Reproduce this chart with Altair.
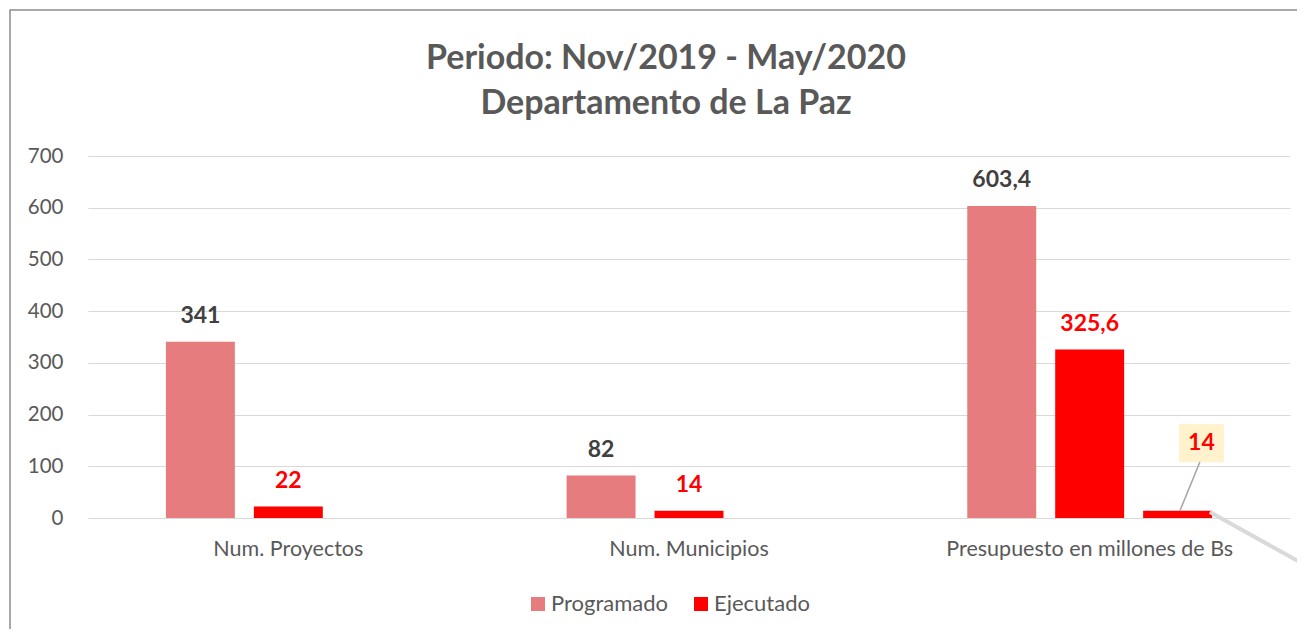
import altair as alt
import pandas as pd

# ---- data ----
categories = ["Num. Proyectos", "Num. Municipios", "Presupuesto en millones de Bs"]
series_names = ["Programado", "Ejecutado", "Ejecutado (adicional)"]
programado = [341, 82, 603.4]
ejecutado = [22, 14, 325.6]
adicional = [None, None, 14]
legend_values = ["Programado", "Ejecutado"]
y_ticks = [0, 100, 200, 300, 400, 500, 600, 700]
title_lines = ["Periodo: Nov/2019 - May/2020", "Departamento de La Paz"]


def fmt(v):
    if float(v).is_integer():
        return str(int(v))
    return str(v).replace(".", ",")


rows = []
for i, c in enumerate(categories):
    for s, vals in zip(series_names, [programado, ejecutado, adicional]):
        v = vals[i]
        if v is None:
            continue
        rows.append({"cat": c, "serie": s, "valor": v, "etiqueta": fmt(v)})
df = pd.DataFrame(rows)

FONT = "Lato"
GRAY = "#595959"

x_enc = alt.X(
    "cat:N", sort=categories,
    scale=alt.Scale(paddingInner=0.389, paddingOuter=0.1945),
    axis=alt.Axis(title=None, labelFontSize=21.5, labelColor=GRAY, labelFont=FONT,
                  ticks=False, domain=False, labelPadding=20, labelAngle=0, grid=False,
                  labelLimit=0),
)
xo_enc = alt.XOffset("serie:N", sort=series_names,
                     scale=alt.Scale(paddingInner=0.216, paddingOuter=0))
y_enc = alt.Y(
    "valor:Q", scale=alt.Scale(domain=[0, 700], nice=False),
    axis=alt.Axis(title=None, values=y_ticks, grid=True, gridColor="#D9D9D9",
                  ticks=False, domain=False, labelPadding=25, labelFontSize=20.5,
                  labelColor=GRAY, labelFont=FONT),
)

bars = alt.Chart(df).mark_bar().encode(
    x=x_enc, xOffset=xo_enc, y=y_enc,
    color=alt.Color(
        "serie:N",
        scale=alt.Scale(domain=series_names, range=["#E67C7E", "#FF0000", "#FF0000"]),
        legend=alt.Legend(values=legend_values, title=None, orient="none",
                          legendX=439, legendY=437, direction="horizontal",
                          symbolType="square", symbolSize=196, labelFontSize=22,
                          labelColor=GRAY, labelFont=FONT, columnPadding=21,
                          labelOffset=2, symbolStrokeWidth=0, padding=0),
    ),
)

labels = alt.Chart(df).transform_filter(
    alt.datum.serie != "Ejecutado (adicional)"
).mark_text(font=FONT, fontWeight="bold", fontSize=23, baseline="middle", dy=-26).encode(
    x=x_enc, xOffset=xo_enc, y="valor:Q", text="etiqueta:N",
    color=alt.condition(alt.datum.serie == "Programado", alt.value("#404040"), alt.value("#FF0000")),
)

main = alt.layer(bars, labels)

# ---- annotation for the small third bar (category units on x) ----
xq = alt.Scale(domain=[0, 3], nice=False, zero=False)
ann_label = adicional[2]

box = alt.Chart(pd.DataFrame({"x": [2.723], "x2": [2.835], "y": [182], "y2": [108]})).mark_rect(
    color="#FFF2CC").encode(
    x=alt.X("x:Q", scale=xq, axis=None), x2="x2:Q", y="y:Q", y2="y2:Q")

leader = alt.Chart(pd.DataFrame({"x": [2.775], "x2": [2.725], "y": [108], "y2": [13.5]})).mark_rule(
    color="#A6A6A6", strokeWidth=1.5).encode(
    x=alt.X("x:Q", scale=xq, axis=None), x2="x2:Q", y="y:Q", y2="y2:Q")

long_line = alt.Chart(pd.DataFrame({"x": [2.80], "x2": [3.494], "y": [11.6], "y2": [-288]})).mark_rule(
    color="#D9D9D9", strokeWidth=4).encode(
    x=alt.X("x:Q", scale=xq, axis=None), x2="x2:Q", y="y:Q", y2="y2:Q")

ann_text = alt.Chart(pd.DataFrame({"x": [2.779], "y": [145], "t": [fmt(ann_label)]})).mark_text(
    font=FONT, fontWeight="bold", fontSize=23, baseline="middle", color="#FF0000").encode(
    x=alt.X("x:Q", scale=xq, axis=None), y="y:Q", text="t:N")

border = alt.Chart(pd.DataFrame({"a": [0]})).mark_rect(
    fillOpacity=0, stroke="#8C8C8C", strokeWidth=1.5).encode(
    x=alt.value(-78), x2=alt.value(1400), y=alt.value(-146), y2=alt.value(700))

annot = alt.layer(border, box, leader, long_line, ann_text)

chart = alt.layer(main, annot).resolve_scale(x="independent").properties(
    width=1202, height=362,
    autosize=alt.AutoSizeParams(type="none"),
    padding={"left": 80, "top": 148, "right": 7, "bottom": 111},
    view=alt.ViewBackground(strokeWidth=0, stroke="transparent"),
    title=alt.Title(title_lines, fontSize=34, font=FONT, fontWeight="bold", color=GRAY,
                    anchor="middle", frame="group", dx=-23, offset=-146, lineHeight=45,
                    baseline="bottom"),
).configure_view(strokeWidth=0, stroke="transparent").configure(background="white")

chart.save("out.html", embed_options={"renderer": "svg", "actions": False})
